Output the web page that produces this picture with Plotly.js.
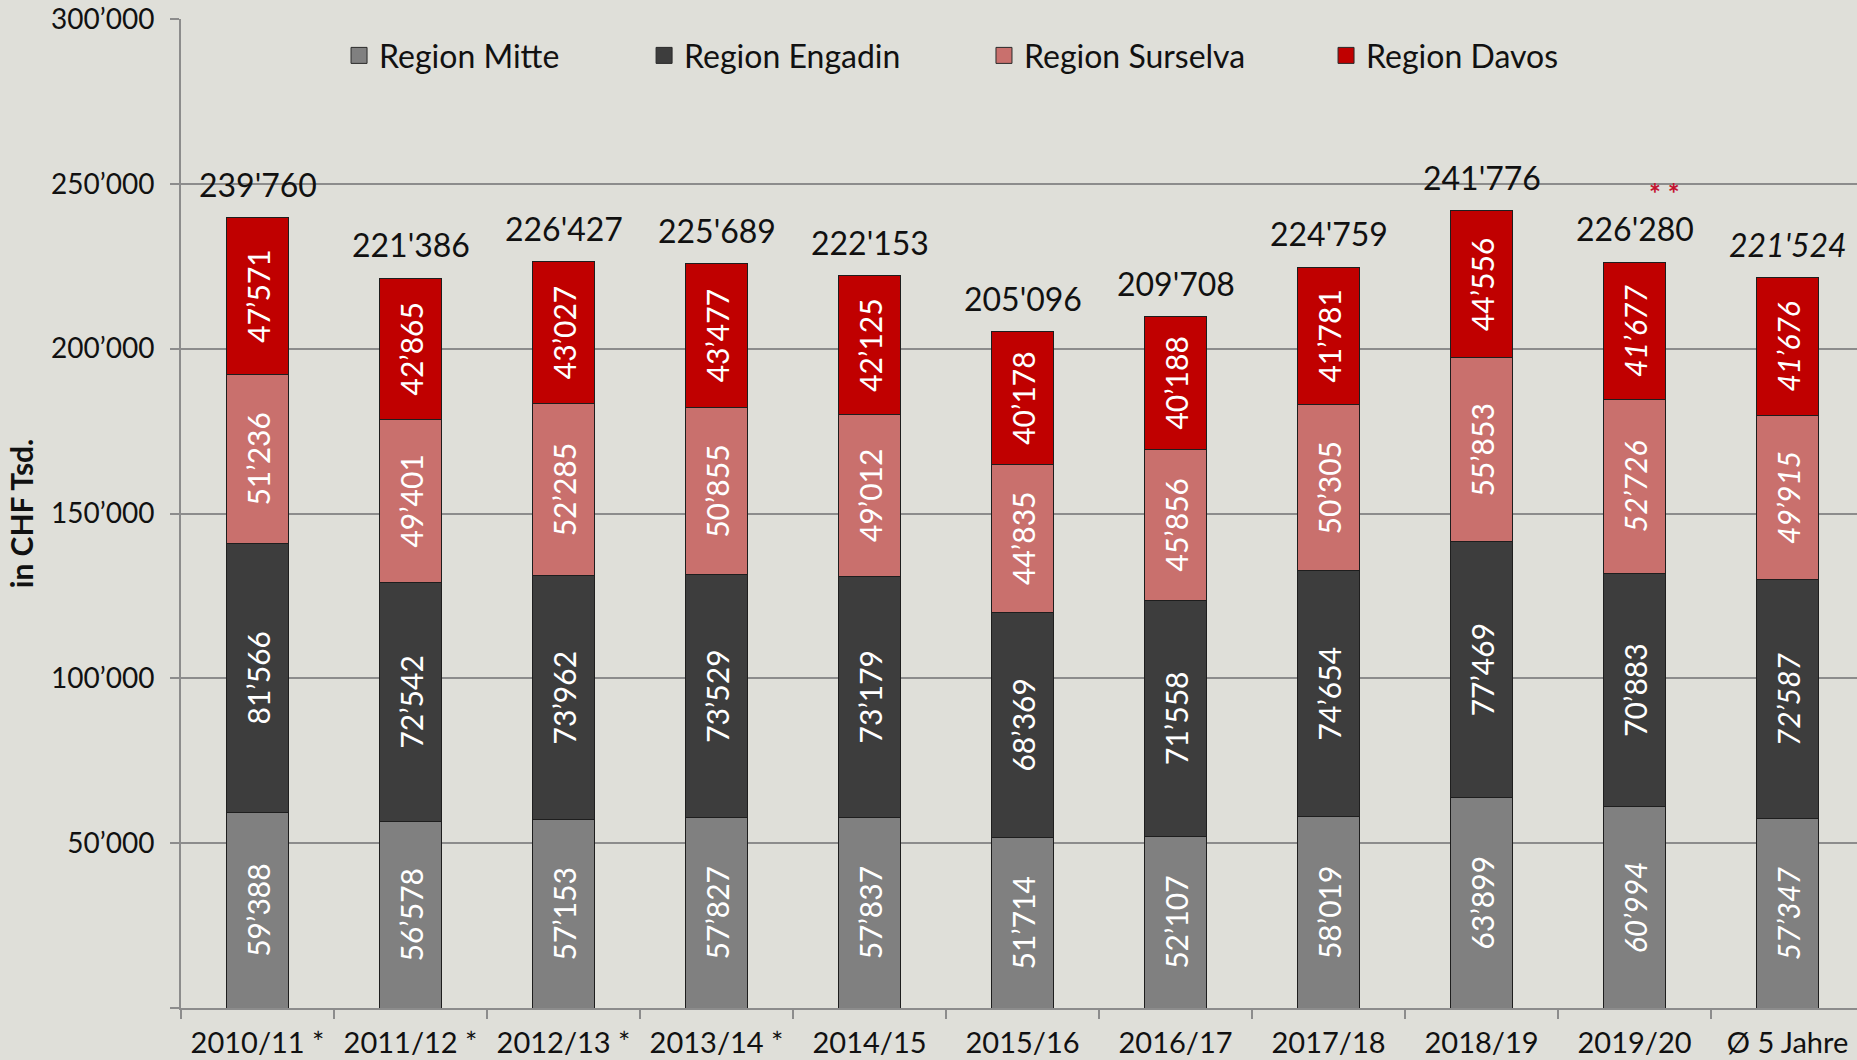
<!DOCTYPE html>
<html>
<head>
<meta charset="utf-8">
<script src="https://cdn.plot.ly/plotly-3.0.1.min.js"></script>
<style>
  html, body { margin: 0; padding: 0; background: #dfdfd9; }
  #chart { width: 1857px; height: 1060px; }
</style>
</head>
<body>
<div id="chart"></div>
<script>
// ---------- data ----------
const categories = ["2010/11 *", "2011/12 *", "2012/13 *", "2013/14 *", "2014/15", "2015/16", "2016/17", "2017/18", "2018/19", "2019/20", "Ø 5 Jahre"];
const mitte    = [59388, 56578, 57153, 57827, 57837, 51714, 52107, 58019, 63899, 60994, 57347];
const engadin  = [81566, 72542, 73962, 73529, 73179, 68369, 71558, 74654, 77469, 70883, 72587];
const surselva = [51236, 49401, 52285, 50855, 49012, 44835, 45856, 50305, 55853, 52726, 49915];
const davos    = [47571, 42865, 43027, 43477, 42125, 40178, 40188, 41781, 44556, 41677, 41676];
const totals   = [239760, 221386, 226427, 225689, 222153, 205096, 209708, 224759, 241776, 226280, 221524];
const yTicks   = [0, 50000, 100000, 150000, 200000, 250000, 300000];
const seriesNames = ["Region Mitte", "Region Engadin", "Region Surselva", "Region Davos"];

// ---------- helpers ----------
function fmt(v, sep) {
  return String(v).replace(/\B(?=(\d{3})+(?!\d))/g, sep);
}
const FONT = "Lato, 'Open Sans', sans-serif";
const colors = ["#808080", "#3d3d3d", "#c9706d", "#c00000"];
const seriesData = [mitte, engadin, surselva, davos];
const legendIds = ["legend", "legend2", "legend3", "legend4"];
const legendX = [0.0943, 0.2763, 0.4791, 0.6832];

// italic value labels: the last column (average) and the 2019/20 estimates (except Engadin)
function isItalic(si, i) {
  if (i === categories.length - 1) return true;
  if (i === categories.length - 2 && si !== 1) return true;
  return false;
}

const barTraces = seriesData.map((vals, si) => ({
  type: "bar",
  name: seriesNames[si],
  showlegend: false,
  x: categories,
  y: vals,
  width: 0.4,
  marker: { color: colors[si], line: { color: "#1e1e1e", width: 1 } },
  text: vals.map((v, i) => isItalic(si, i) ? "<i>" + fmt(v, "’") + "</i>" : fmt(v, "’")),
  texttemplate: "%{text}",
  textposition: "inside",
  insidetextanchor: "middle",
  textangle: -90,
  constraintext: "none",
  textfont: { family: FONT, size: 30, color: "#ffffff" },
  hoverinfo: "skip"
}));

// legend entries (one legend per series so spacing follows the original)
const legendTraces = seriesData.map((vals, si) => ({
  type: "scatter",
  mode: "markers",
  name: seriesNames[si],
  legend: legendIds[si],
  x: [null], y: [null],
  marker: { symbol: "square", size: 16, color: colors[si], line: { color: "#2a2a2a", width: 1 } },
  hoverinfo: "skip"
}));

const annotations = totals.map((t, i) => ({
  x: categories[i], y: t, xref: "x", yref: "y",
  text: fmt(t, "'"),
  showarrow: false,
  yanchor: "bottom",
  yshift: 12,
  font: { family: FONT, size: 32, color: "#111111",
          style: i === categories.length - 1 ? "italic" : "normal" }
}));
annotations.push({
  x: categories[9], y: totals[9], xref: "x", yref: "y",
  text: "<b>* *</b>", showarrow: false, yanchor: "bottom",
  xshift: 30, yshift: 50,
  font: { family: FONT, size: 28, color: "#c4122f" }
});

const layout = {
  width: 1857, height: 1060,
  margin: { l: 181, r: 0, t: 19, b: 52, pad: 0 },
  paper_bgcolor: "#dfdfd9",
  plot_bgcolor: "#dfdfd9",
  barmode: "stack",
  showlegend: true,
  xaxis: {
    type: "category",
    range: [-0.5, 10.454],
    showline: true, linecolor: "#8c8c8c", linewidth: 2,
    ticks: "outside", tickson: "boundaries", ticklen: 9, tickcolor: "#8c8c8c", tickwidth: 2,
    showgrid: false,
    tickfont: { family: FONT, size: 29, color: "#111111" },
    ticklabelstandoff: 8,
    fixedrange: true
  },
  yaxis: {
    range: [0, 300000],
    tickvals: yTicks,
    ticktext: yTicks.map(v => v === 0 ? "" : fmt(v, "’")),
    showline: true, linecolor: "#8c8c8c", linewidth: 2,
    ticks: "outside", ticklen: 9, tickcolor: "#8c8c8c", tickwidth: 2,
    showgrid: true, gridcolor: "#8c8c8c", gridwidth: 2,
    zeroline: false,
    tickfont: { family: FONT, size: 28, color: "#111111" },
    ticklabelstandoff: 10,
    title: { text: "<b>in CHF Tsd.</b>", standoff: 8,
             font: { family: FONT, size: 30, color: "#111111" } },
    fixedrange: true
  },
  annotations: annotations,
  hovermode: false
};
legendIds.forEach((id, si) => {
  layout[id] = {
    orientation: "h",
    x: legendX[si], xanchor: "left",
    y: 0.963, yanchor: "middle",
    bgcolor: "rgba(0,0,0,0)",
    font: { family: FONT, size: 32, color: "#111111" }
  };
});

Plotly.newPlot("chart", barTraces.concat(legendTraces), layout, { displayModeBar: false, staticPlot: true });
</script>
</body>
</html>
